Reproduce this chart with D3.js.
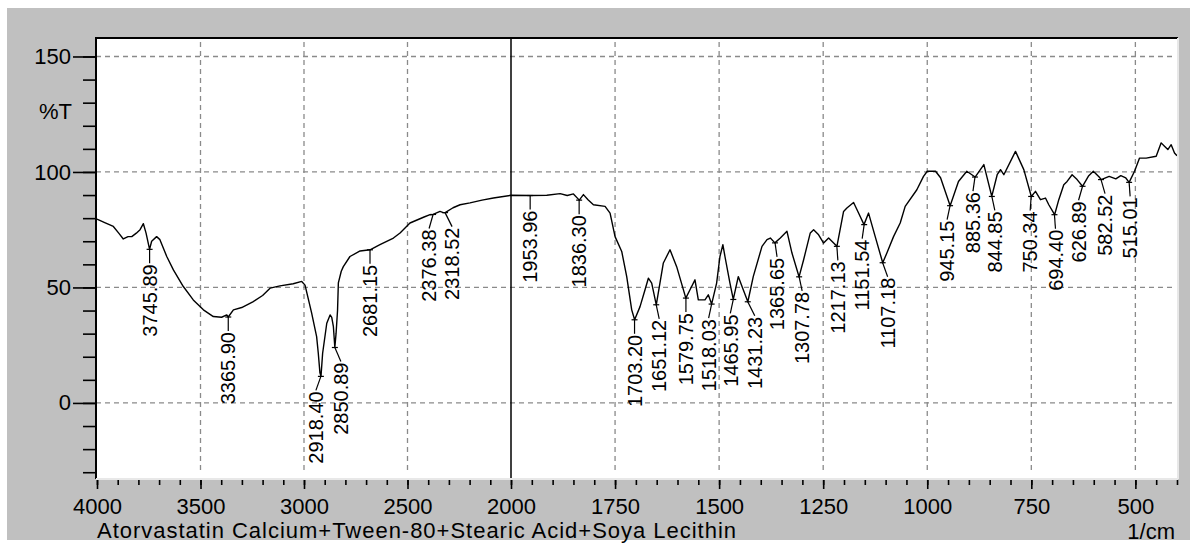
<!DOCTYPE html>
<html>
<head>
<meta charset="utf-8">
<script src="https://cdn.jsdelivr.net/npm/d3@7"></script>
<style>
body{margin:0;background:#fff;}
text{font-family:"Liberation Sans",Arial,sans-serif;fill:#000;}
</style>
</head>
<body>
<svg id="chart" width="1197" height="546"></svg>
<script>
// spectrum trace: wavenumber (1/cm) and %T
var waveNum=[4000,3960,3921,3895,3873,3850,3832,3810,3792,3776,3763,3746,3736,3712,3696,3663,3631,3583,3535,3486,
  3438,3398,3373,3366,3341,3301,3245,3200,3164,3116,3052,3011,2995,2963,2939,2931,2923,2918,2910,2890,
  2874,2866,2858,2851,2845,2838,2834,2820,2810,2778,2729,2681,2633,2568,2536,2488,2420,2391,2376,2343,
  2327,2318,2280,2246,2198,2140,2085,2000,1954,1914,1882,1865,1850,1836,1826,1815,1802,1774,1762,1750,
  1734,1722,1710,1703,1690,1678,1670,1662,1651,1634,1618,1602,1580,1570,1558,1550,1534,1526,1518,1506,
  1498,1491,1486,1474,1466,1454,1442,1431,1418,1397,1385,1377,1366,1353,1337,1325,1308,1297,1281,1273,
  1261,1249,1237,1217,1201,1193,1177,1165,1152,1141,1125,1107,1097,1081,1065,1053,1025,1009,1000,980,
  968,945,925,905,885,864,845,832,824,816,788,768,750,740,728,716,708,694,684,672,
  664,652,640,627,612,601,587,582,563,547,535,523,515,502,490,474,450,438,430,422,
  414,406,400];
var transT=[79.6,78.0,76.4,73.5,71.0,72.0,72.0,73.5,75.0,77.6,73.5,66.5,70.0,72.0,70.7,63.4,57.6,50.4,44.6,40.3,
  37.4,37.1,38.1,37.2,40.3,41.3,43.9,46.5,49.7,50.7,51.6,52.6,51.0,38.9,28.7,21.5,13.0,11.5,21.5,34.5,
  38.1,37.0,33.0,24.0,30.2,40.0,52.0,57.0,59.0,63.4,65.8,66.3,68.5,71.4,73.6,77.9,80.5,81.5,81.6,82.9,
  82.4,82.4,84.5,85.8,86.6,87.8,88.7,89.9,89.8,89.9,90.6,89.8,90.5,87.8,90.2,88.0,85.8,85.1,82.2,72.0,
  65.6,54.7,40.3,36.0,41.7,49.0,54.0,51.9,42.5,60.6,66.3,59.0,45.4,49.0,53.3,44.6,44.6,46.8,42.8,51.9,
  63.4,68.5,63.4,51.9,44.8,54.7,49.0,43.8,54.7,67.8,70.7,71.4,69.3,71.4,74.3,64.9,54.6,62.0,73.6,75.0,
  72.8,69.2,71.4,67.8,82.9,84.4,86.8,82.2,77.2,82.2,72.0,60.7,64.9,72.0,77.9,85.1,92.3,98.1,100.3,100.3,
  97.5,85.4,95.9,100.3,97.8,103.2,89.4,98.8,101.0,98.8,108.9,101.0,89.4,91.6,88.0,88.7,85.8,81.5,88.0,94.5,
  95.9,98.8,96.7,93.8,98.4,100.3,97.8,96.7,98.1,97.0,98.4,97.4,95.5,100.3,106.0,106.0,106.8,112.6,111.1,109.7,
  111.8,108.2,107.0];

// labelled peaks
var peakLabel=["3745.89","3365.90","2918.40","2850.89","2681.15","2376.38","2318.52","1953.96","1836.30",
  "1703.20","1651.12","1579.75","1518.03","1465.95","1431.23","1365.65","1307.78","1217.13","1151.54",
  "1107.18","945.15","885.36","844.85","750.34","694.40","626.89","582.52","515.01"];
var peakT=[66.5,37.2,11.5,24.0,66.3,81.6,82.4,89.8,87.8,
  36.0,42.5,45.4,42.8,44.8,43.8,69.3,54.6,67.8,77.2,
  60.7,85.4,97.8,89.4,89.4,81.5,93.8,96.7,95.5];
// sideways shift of the label from its peak, px
var labelNudge=[0,0,-5,6,0,-4,7,0,0,
  0,3,0,-3,-3,7,2,3,1,-2,
  5,-3,-2,3,-1,1,-4,4,1];

var xMajor=[4000,3500,3000,2500,2000,1750,1500,1250,1000,750,500];
var yMajor=[150,100,50,0];
var yName="%T";
var xUnit="1/cm";
var title="Atorvastatin Calcium+Tween-80+Stearic Acid+Soya Lecithin";

var plot={left:96,right:1177,top:38,bottom:478};

var svg=d3.select("#chart");

// grey panel
svg.append("rect").attr("x",7).attr("y",8).attr("width",1183).attr("height",532)
  .attr("fill","#c0c0c0");
svg.append("rect").attr("x",plot.left).attr("y",plot.top)
  .attr("width",plot.right-plot.left).attr("height",plot.bottom-plot.top)
  .attr("fill","#fff");

// x scale has a break at 2000: the right part is twice as wide per 1/cm
var x=d3.scaleLinear().domain([4000,2000,400]).range([97,511,plot.right]);
var y=d3.scaleLinear().domain([-32.5,158]).range([plot.bottom,plot.top]);

// grid
var grid=svg.append("g").attr("stroke","#8a8a8a").attr("stroke-width",1.3).attr("stroke-dasharray","5,4");
grid.selectAll("line.h").data(yMajor).join("line").attr("class","h")
  .attr("x1",plot.left).attr("x2",plot.right-4)
  .attr("y1",d=>y(d)).attr("y2",d=>y(d));
grid.selectAll("line.v").data(xMajor.filter(d=>d!=4000 && d!=2000)).join("line").attr("class","v")
  .attr("x1",d=>x(d)).attr("x2",d=>x(d))
  .attr("y1",plot.top+4).attr("y2",plot.bottom-4);

// solid line at the scale break
svg.append("line").attr("x1",x(2000)).attr("x2",x(2000))
  .attr("y1",plot.top).attr("y2",plot.bottom)
  .attr("stroke","#000").attr("stroke-width",1.5);

// spectrum
var pts=waveNum.map((w,i)=>[w,transT[i]]);
var line=d3.line().x(d=>x(d[0])).y(d=>y(d[1]));
svg.append("path").datum(pts)
  .attr("d",line)
  .attr("fill","none").attr("stroke","#000").attr("stroke-width",1.4)
  .attr("stroke-linejoin","round");

// peak labels
var peaks=peakLabel.map((s,i)=>({w:parseFloat(s),t:peakT[i],s:s,dx:labelNudge[i]}));
var pg=svg.append("g").attr("class","peaks");
pg.selectAll("line.mark").data(peaks).join("line").attr("class","mark")
  .attr("x1",d=>x(d.w)-3).attr("x2",d=>x(d.w)+3)
  .attr("y1",d=>y(d.t)).attr("y2",d=>y(d.t))
  .attr("stroke","#000").attr("stroke-width",1.2);
pg.selectAll("line.lead").data(peaks).join("line").attr("class","lead")
  .attr("x1",d=>x(d.w)).attr("y1",d=>y(d.t))
  .attr("x2",d=>x(d.w)+d.dx).attr("y2",d=>y(d.t)+14)
  .attr("stroke","#000").attr("stroke-width",1.2);
pg.selectAll("text").data(peaks).join("text")
  .attr("transform",d=>"translate("+(x(d.w)+d.dx)+","+(y(d.t)+15)+") rotate(-90)")
  .attr("text-anchor","end").attr("dy","0.36em")
  .style("font-size","20px")
  .text(d=>d.s);

// frame: dark on left/top, light on right/bottom
svg.append("line").attr("x1",plot.left).attr("x2",plot.left).attr("y1",plot.top-1).attr("y2",plot.bottom+1)
  .attr("stroke","#000").attr("stroke-width",2);
svg.append("line").attr("x1",plot.left).attr("x2",plot.right+1).attr("y1",plot.top).attr("y2",plot.top)
  .attr("stroke","#000").attr("stroke-width",2);
svg.append("line").attr("x1",plot.right+1).attr("x2",plot.right+1).attr("y1",plot.top).attr("y2",plot.bottom+1)
  .attr("stroke","#e8e8e8").attr("stroke-width",2);
svg.append("line").attr("x1",plot.left).attr("x2",plot.right+1).attr("y1",plot.bottom+1).attr("y2",plot.bottom+1)
  .attr("stroke","#e8e8e8").attr("stroke-width",2);

// x axis
var xMinor=d3.range(4000,2000,-100).concat(d3.range(2000,399,-50));
var xMinorAxis=d3.axisBottom(x).tickValues(xMinor).tickSize(5).tickFormat("");
var xAxis=d3.axisBottom(x).tickValues(xMajor).tickSize(9).tickPadding(9).tickFormat(d3.format("d"));
svg.append("g").attr("transform","translate(0,"+(plot.bottom+2)+")").call(xMinorAxis);
var gx=svg.append("g").attr("transform","translate(0,"+(plot.bottom+2)+")").call(xAxis);

// y axis
var yMinor=d3.range(-30,151,10);
var yMinorAxis=d3.axisLeft(y).tickValues(yMinor).tickSize(12).tickFormat("");
var yAxis=d3.axisLeft(y).tickValues(yMajor).tickSize(22).tickPadding(2).tickFormat(d3.format("d"));
svg.append("g").attr("transform","translate("+(plot.left-1)+",0)").call(yMinorAxis);
svg.append("g").attr("transform","translate("+(plot.left-1)+",0)").call(yAxis);

svg.selectAll(".domain").remove();
svg.selectAll(".tick line").attr("stroke","#000").attr("stroke-width",1.6);
svg.selectAll(".tick text").style("font-size","22px").attr("fill","#000");

svg.append("text").attr("x",72).attr("y",119).attr("text-anchor","end")
  .style("font-size","22px").text(yName);
// the original bitmap font runs wider than Liberation Sans
svg.append("text").attr("x",97).attr("y",538)
  .attr("textLength",639).attr("lengthAdjust","spacing")
  .style("font-size","22px").text(title);
svg.append("text").attr("x",1175).attr("y",539).attr("text-anchor","end")
  .style("font-size","22px").text(xUnit);
</script>
</body>
</html>
